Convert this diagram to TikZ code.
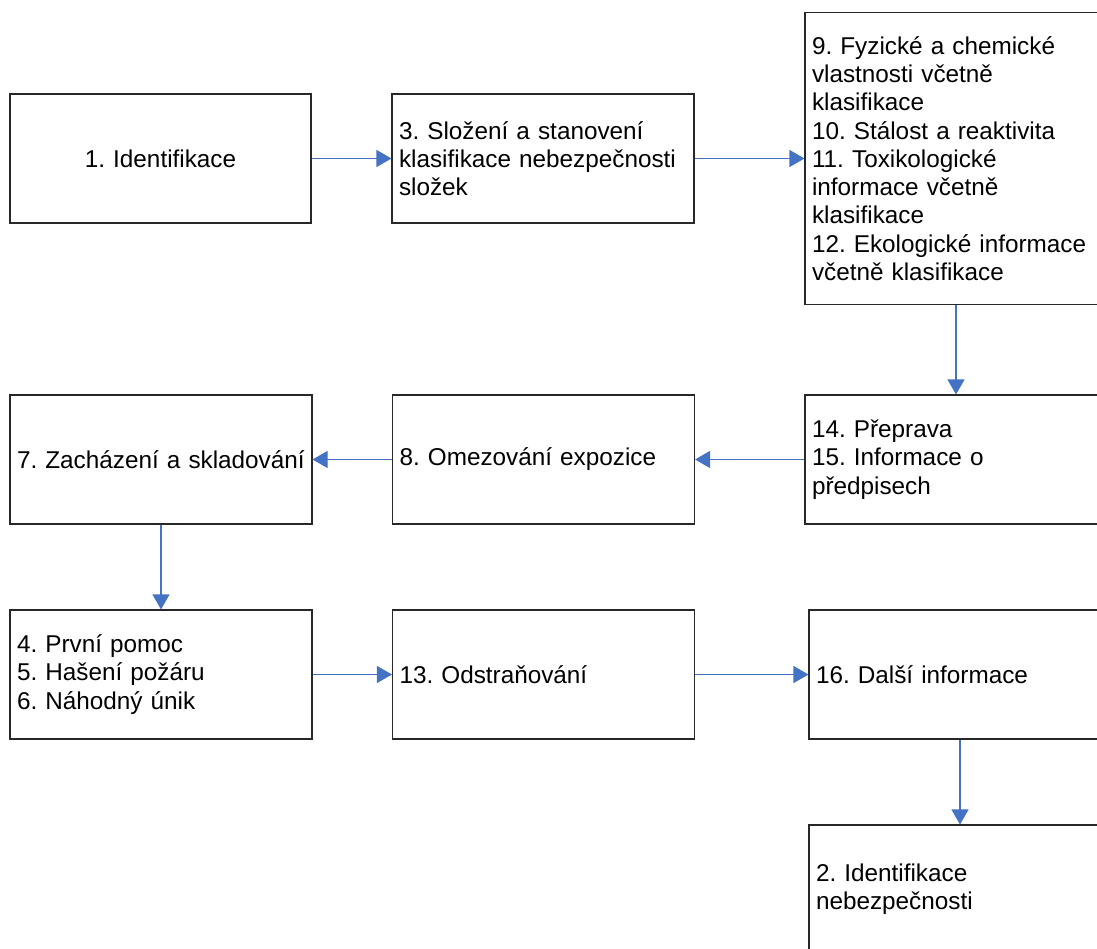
\documentclass[tikz,border=0pt]{standalone}
\usepackage{fontspec}
\setmainfont{Liberation Sans}
\usetikzlibrary{arrows.meta}
\definecolor{arrowblue}{RGB}{68,114,196}
\definecolor{boxline}{RGB}{40,40,40}
\begin{document}
\frenchspacing
\begin{tikzpicture}[x=1pt,y=-1pt,
  box/.style={draw=boxline,line width=1.1pt,fill=white,minimum height=129pt,
    text width=288pt,inner xsep=7pt,inner ysep=0pt,align=left,
    font=\fontsize{24.3}{28.3}\selectfont\frenchspacing},
  flow/.style={draw=arrowblue,line width=1.1pt,
    -{Triangle[width=17pt,length=15pt,fill=arrowblue]}}]
\useasboundingbox (0,0) rectangle (1097,949);
\clip (0,0) rectangle (1097,949);
\node[box,align=center,text width=287pt] (b1) at (160.5,158.5) {1. Identifikace};
\node[box] (b3) at (543,158.5) {3. Složení a stanovení\\klasifikace nebezpečnosti\\složek};
\node[box,minimum height=292pt] (b9) at (956,158.5) {9. Fyzické a chemické\\vlastnosti včetně\\klasifikace\\10. Stálost a reaktivita\\11. Toxikologické\\informace včetně\\klasifikace\\12. Ekologické informace\\včetně klasifikace};
\node[box] (b14) at (956,459.5) {14. Přeprava\\15. Informace o\\předpisech};
\node[box] (b8) at (543.5,459.5) {8. Omezování expozice};
\node[box] (b7) at (161,459.5) {\mbox{7. Zacházení a skladování}};
\node[box] (b4) at (161,674.5) {4. První pomoc\\5. Hašení požáru\\6. Náhodný únik};
\node[box] (b13) at (543.5,674.5) {13. Odstraňování};
\node[box] (b16) at (960,674.5) {16. Další informace};
\node[box] (b2) at (960,889.5) {2. Identifikace\\nebezpečnosti};
\draw[flow] (b1) -- (b3);
\draw[flow] (b3) -- (b9);
\draw[flow] (b9) -- (b14);
\draw[flow] (b14) -- (b8);
\draw[flow] (b8) -- (b7);
\draw[flow] (b7) -- (b4);
\draw[flow] (b4) -- (b13);
\draw[flow] (b13) -- (b16);
\draw[flow] (b16) -- (b2);
\end{tikzpicture}
\end{document}
